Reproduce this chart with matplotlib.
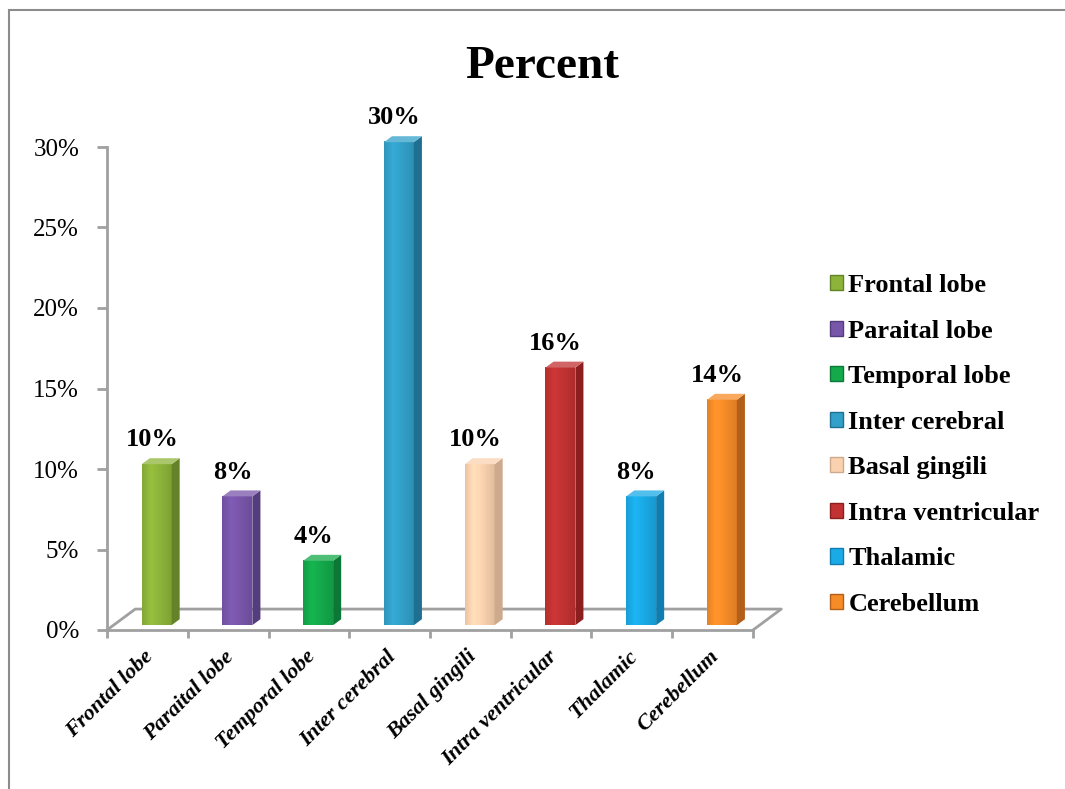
import numpy as np
from matplotlib import pyplot as plt
from matplotlib.patches import Polygon, Rectangle, Patch
from matplotlib.colors import to_rgb

plt.rcParams['font.family'] = ['Liberation Serif', 'DejaVu Serif']

categories = ["Frontal lobe", "Paraital lobe", "Temporal lobe", "Inter cerebral",
              "Basal gingili", "Intra ventricular", "Thalamic", "Cerebellum"]
percent = [10, 8, 4, 30, 10, 16, 8, 14]
front_colors = ['#8db43a', '#7856aa', '#14aa4b', '#32a0c8',
                '#fad2af', '#c23232', '#1aaae6', '#f58c28']
side_colors = ['#648228', '#553c7d', '#0c7837', '#1f7090',
               '#cdaa8c', '#8c1e1e', '#107db0', '#b45f19']
y_ticks = [0, 5, 10, 15, 20, 25, 30]

W, H = 1065, 789
fig = plt.figure(figsize=(W / 100, H / 100), dpi=100)


def fx(x):
    return x / W


def fy(y):
    return 1 - y / H


# axes placed so that 0% sits at y=630px and 30% at y=147px
ax = fig.add_axes((fx(107), fy(630), 646 / W, 32 * 16.1 / H))
ax.set_xlim(0, 8)
ax.set_ylim(0, 32)

GRAY = '#a0a0a0'
for s in ['top', 'right']:
    ax.spines[s].set_visible(False)
for s in ['left', 'bottom']:
    ax.spines[s].set_color(GRAY)
    ax.spines[s].set_linewidth(2)
ax.spines['left'].set_bounds(0, 30)

# floor in perspective
FL_DX, FL_DY = 0.35, 1.3
n = len(categories)
ax.plot([0, FL_DX, n + FL_DX, n], [0, FL_DY, FL_DY, 0], color=GRAY,
        lw=2, clip_on=False, zorder=1)

# 3d bars
BAR_L, BAR_W, BAR_DX, BAR_DY, BASE = 0.43, 0.37, 0.10, 0.37, 0.3
grad_t = np.linspace(0, 1, 64)
shade = np.interp(grad_t, [0, 0.3, 1], [0.93, 1.07, 0.9])
for i, v in enumerate(percent):
    x0 = i + BAR_L
    x1 = x0 + BAR_W
    y0 = BASE
    y1 = BASE + v
    base_rgb = np.array(to_rgb(front_colors[i]))
    img = np.clip(shade[:, None] * base_rgb[None, :], 0, 1)[None, :, :]
    im = ax.imshow(img, extent=(x0, x1, y0, y1), aspect='auto',
                   interpolation='bilinear', origin='lower', zorder=3)
    im.set_clip_on(False)
    side = Polygon([(x1, y0), (x1 + BAR_DX, y0 + BAR_DY),
                    (x1 + BAR_DX, y1 + BAR_DY), (x1, y1)],
                   closed=True, facecolor=side_colors[i], edgecolor='none',
                   zorder=3, clip_on=False)
    ax.add_patch(side)
    top_rgb = np.clip(base_rgb * 0.75 + 0.25, 0, 1)
    top = Polygon([(x0, y1), (x0 + BAR_DX, y1 + BAR_DY),
                   (x1 + BAR_DX, y1 + BAR_DY), (x1, y1)],
                  closed=True, facecolor=top_rgb, edgecolor='none',
                  zorder=3, clip_on=False)
    ax.add_patch(top)
    ax.text(x0 + BAR_W / 2 - 0.06, y1 + 1.1, f"{v}%", ha='center',
            va='baseline', fontsize=19, fontweight='bold', zorder=5)

ax.set_xlim(0, 8)
ax.set_ylim(0, 32)

ax.set_yticks(y_ticks, [f"{t}%" for t in y_ticks], fontsize=18)
ax.tick_params(axis='y', direction='out', length=7, width=2, color=GRAY, pad=13)

ax.set_xticks(np.arange(n) + 0.45, categories, rotation=45, ha='right',
              rotation_mode='anchor', fontsize=16, fontweight='bold',
              fontstyle='italic')
ax.set_xticks(np.arange(n + 1), minor=True)
ax.tick_params(axis='x', which='major', length=0, pad=12)
ax.tick_params(axis='x', which='minor', direction='out', length=6, width=2,
               color=GRAY)

# legend
handles = [Patch(facecolor=front_colors[i], edgecolor=side_colors[i])
           for i in range(n)]
fig.legend(handles, categories, loc='upper left',
           bbox_to_anchor=(fx(830), fy(274)), frameon=False,
           prop={'size': 19, 'weight': 'bold'}, handlelength=0.5,
           handleheight=0.5, handletextpad=0.2, labelspacing=0.855,
           borderpad=0, borderaxespad=0)

fig.text(fx(542), fy(78), "Percent", ha='center', va='baseline',
         fontsize=34, fontweight='bold')

# outer chart frame
fig.add_artist(Rectangle((fx(9), fy(H + 20)), 1.2, fy(10) - fy(H + 20),
                         transform=fig.transFigure, fill=False,
                         edgecolor='#8c8c8c', lw=1.5))

fig.savefig('out.png', dpi=100)
